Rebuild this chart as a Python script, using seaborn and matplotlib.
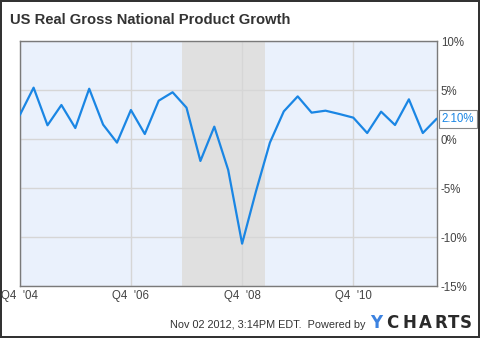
import matplotlib
matplotlib.use("Agg")
import matplotlib.pyplot as plt
import seaborn as sns
import pandas as pd

# Data: quarterly real GNP growth (%), Q4 2004 .. Q2 2012
quarter_index = list(range(31))
growth = [2.45, 5.27, 1.43, 3.50, 1.15, 5.16, 1.50, -0.34, 2.99, 0.54,
          3.94, 4.80, 3.23, -2.21, 1.29, -3.13, -10.65, -5.30, -0.34, 2.85,
          4.38, 2.72, 2.92, 2.58, 2.21, 0.64, 2.82, 1.46, 4.08, 0.64, 2.10]
tick_positions = [0, 8, 16, 24]
tick_labels = ["Q4  '04", "Q4  '06", "Q4  '08", "Q4  '10"]
y_ticks = [10, 5, 0, -5, -10, -15]
y_labels = ["10%", "5%", "0%", "-5%", "-10%", "-15%"]
recession = (11.67, 17.67)
last_label = "2.10%"

df = pd.DataFrame({"q": quarter_index, "g": growth})

sns.set_theme(style="white")
plt.rcParams["font.family"] = ["Liberation Sans", "DejaVu Sans"]

fig = plt.figure(figsize=(4.8, 3.38), dpi=100, facecolor="white",
                 linewidth=1.5, edgecolor="#333333")
ax = fig.add_axes([19.7 / 480, 1 - 286.3 / 338, (436.7 - 19.7) / 480, (286.3 - 41.3) / 338])
ax.set_facecolor("#EAF1FC")

ax.axvspan(recession[0], recession[1], color="#E0E0E0", zorder=0.5, lw=0)

sns.lineplot(data=df, x="q", y="g", ax=ax, color="#1A86E4", linewidth=1.6, zorder=3)

ax.set_xlim(0, 30)
ax.set_ylim(-15, 10)
ax.set_xticks(tick_positions)
ax.set_xticklabels(tick_labels)
ax.set_yticks(y_ticks)
ax.set_yticklabels(y_labels)
ax.yaxis.tick_right()
ax.tick_params(axis="both", length=0, labelsize=8.3, colors="#444444")
ax.tick_params(axis="y", pad=3)
ax.tick_params(axis="x", pad=3)
ax.set_xlabel("")
ax.set_ylabel("")
ax.grid(True, color="#D6D6D6", linewidth=1, zorder=1)
ax.set_axisbelow(True)
for s in ax.spines.values():
    s.set_color("#7A7A7A")
    s.set_linewidth(1)

ax.text(30.35, growth[-1], last_label, color="#1A86E4", fontsize=8.3,
        va="center", ha="left", transform=ax.transData, clip_on=False,
        bbox=dict(boxstyle="square,pad=0.25", fc="white", ec="#888888", lw=0.8))

fig.text(10 / 480, 1 - 19.5 / 338, "US Real Gross National Product Growth",
         fontsize=10.6, fontweight="bold", color="#333333", va="center", ha="left")

fig.text(365 / 480, 1 - 325 / 338, "Nov 02 2012, 3:14PM EDT.  Powered by",
         fontsize=7.8, color="#333333", ha="right", va="center")
logo_letters = ["Y", "C", "H", "A", "R", "T", "S"]
logo_x = [376.5, 392.5, 409, 425, 441, 454, 466]
for letter, lx in zip(logo_letters, logo_x):
    fig.text(lx / 480, 1 - 323.5 / 338, letter, fontsize=12, fontweight="bold",
             color="#3C82E0" if letter == "Y" else "#2A2A2A", ha="center", va="center",
             family=["DejaVu Sans"])

fig.savefig("out.png", dpi=100, facecolor="white", edgecolor="#333333")
